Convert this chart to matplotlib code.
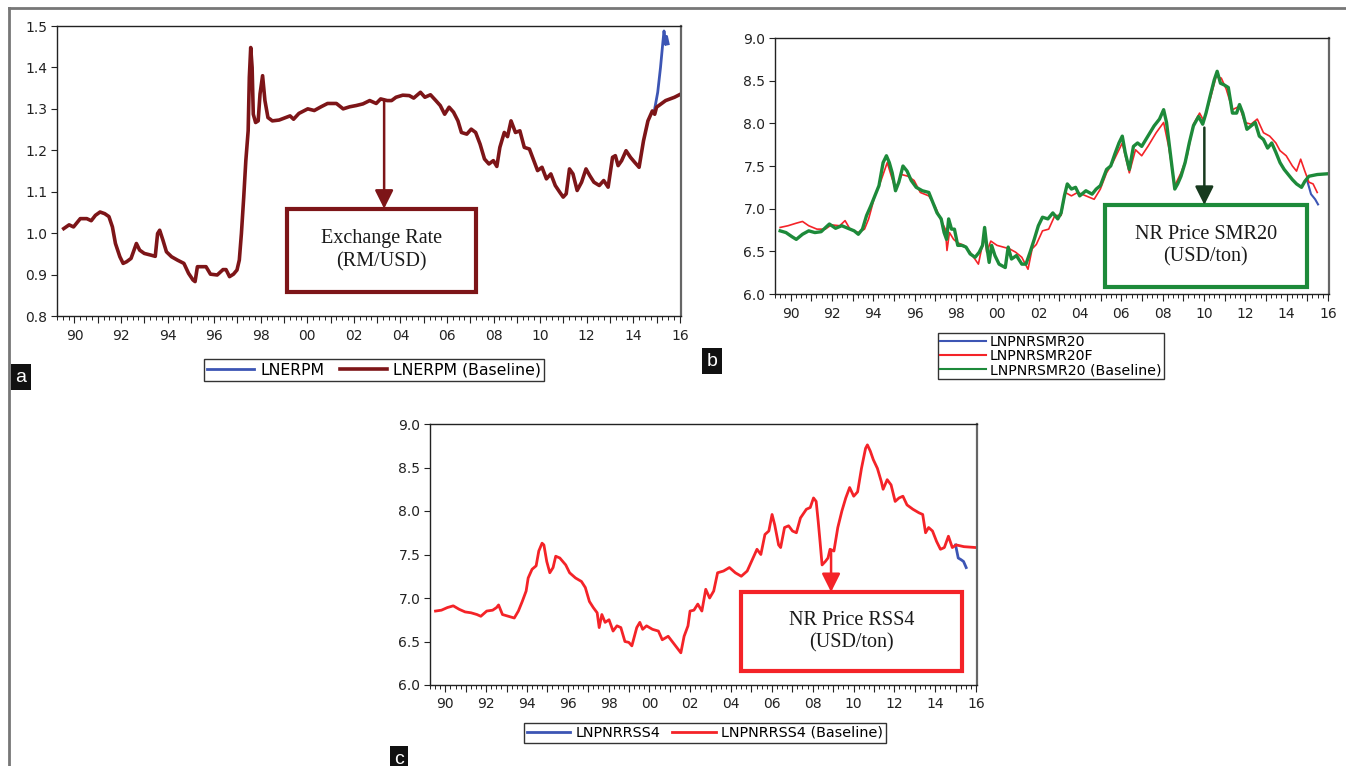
import matplotlib
matplotlib.use("Agg")
import matplotlib.pyplot as plt
from matplotlib.patches import Rectangle
from matplotlib.lines import Line2D

plt.rcParams['font.family'] = ['DejaVu Sans']

# ---- panel a: exchange rate (LNERPM) ----
a_base = [(1989.54, 1.011), (1989.77, 1.02), (1989.96, 1.015), (1990.25, 1.035), (1990.53, 1.035),
          (1990.72, 1.03), (1990.9, 1.043), (1991.1, 1.051), (1991.3, 1.047), (1991.48, 1.04),
          (1991.63, 1.015), (1991.76, 0.975), (1991.95, 0.943), (1992.09, 0.927), (1992.24, 0.931),
          (1992.43, 0.939), (1992.66, 0.975), (1992.8, 0.959), (1993.0, 0.951), (1993.28, 0.947),
          (1993.47, 0.944), (1993.57, 0.999), (1993.66, 1.007), (1993.8, 0.983), (1993.95, 0.955),
          (1994.17, 0.943), (1994.42, 0.935), (1994.7, 0.927), (1994.9, 0.903), (1995.09, 0.887),
          (1995.18, 0.883), (1995.28, 0.919), (1995.46, 0.919), (1995.65, 0.919), (1995.84, 0.901),
          (1996.13, 0.899), (1996.38, 0.912), (1996.51, 0.912), (1996.66, 0.895), (1996.83, 0.901),
          (1996.98, 0.911), (1997.08, 0.935), (1997.17, 0.999), (1997.27, 1.087), (1997.36, 1.175),
          (1997.46, 1.247), (1997.51, 1.376), (1997.57, 1.448), (1997.63, 1.40), (1997.68, 1.287),
          (1997.78, 1.267), (1997.89, 1.271), (1997.97, 1.336), (1998.08, 1.38), (1998.18, 1.32),
          (1998.31, 1.279), (1998.5, 1.271), (1998.79, 1.273), (1999.07, 1.279), (1999.26, 1.283),
          (1999.41, 1.275), (1999.64, 1.289), (2000.02, 1.30), (2000.3, 1.296), (2000.59, 1.305),
          (2000.87, 1.313), (2001.25, 1.313), (2001.54, 1.30), (2001.82, 1.305), (2002.1, 1.308),
          (2002.39, 1.312), (2002.68, 1.32), (2002.96, 1.313), (2003.15, 1.324), (2003.43, 1.32),
          (2003.62, 1.32), (2003.81, 1.328), (2004.1, 1.333), (2004.38, 1.332), (2004.57, 1.326),
          (2004.86, 1.34), (2005.05, 1.328), (2005.29, 1.334), (2005.52, 1.32), (2005.71, 1.308),
          (2005.9, 1.287), (2006.09, 1.304), (2006.28, 1.292), (2006.47, 1.271), (2006.62, 1.243),
          (2006.85, 1.239), (2007.04, 1.251), (2007.23, 1.243), (2007.42, 1.215), (2007.61, 1.179),
          (2007.8, 1.167), (2007.99, 1.175), (2008.14, 1.161), (2008.27, 1.207), (2008.46, 1.243),
          (2008.6, 1.233), (2008.75, 1.271), (2008.94, 1.243), (2009.13, 1.247), (2009.32, 1.207),
          (2009.54, 1.203), (2009.73, 1.175), (2009.89, 1.151), (2010.08, 1.159), (2010.27, 1.131),
          (2010.46, 1.143), (2010.65, 1.115), (2010.84, 1.099), (2010.99, 1.087), (2011.12, 1.095),
          (2011.26, 1.155), (2011.41, 1.143), (2011.59, 1.103), (2011.78, 1.123), (2011.97, 1.155),
          (2012.13, 1.139), (2012.31, 1.123), (2012.54, 1.115), (2012.73, 1.127), (2012.92, 1.111),
          (2013.11, 1.183), (2013.23, 1.187), (2013.35, 1.163), (2013.5, 1.175), (2013.69, 1.199),
          (2013.88, 1.183), (2014.06, 1.171), (2014.25, 1.159), (2014.44, 1.223), (2014.63, 1.271),
          (2014.82, 1.295), (2014.92, 1.287), (2015.0, 1.304), (2015.39, 1.32), (2015.77, 1.328),
          (2016.05, 1.336)]
a_act = [(2014.92, 1.30), (2015.05, 1.34), (2015.17, 1.40), (2015.27, 1.46), (2015.32, 1.488),
         (2015.36, 1.47), (2015.39, 1.455), (2015.43, 1.475), (2015.5, 1.457)]

# ---- panel b: SMR20 ----
b_base = [(1989.5, 6.74), (1989.78, 6.72), (1990.08, 6.67), (1990.28, 6.64), (1990.58, 6.70),
          (1990.88, 6.74), (1991.18, 6.72), (1991.48, 6.73), (1991.88, 6.82), (1992.18, 6.77),
          (1992.48, 6.80), (1992.78, 6.77), (1993.08, 6.74), (1993.28, 6.70), (1993.48, 6.76),
          (1993.68, 6.92), (1993.88, 7.03), (1994.08, 7.15), (1994.28, 7.27), (1994.48, 7.54),
          (1994.64, 7.62), (1994.78, 7.54), (1994.92, 7.42), (1995.08, 7.21), (1995.24, 7.31),
          (1995.44, 7.50), (1995.64, 7.44), (1995.84, 7.33), (1996.08, 7.25), (1996.38, 7.21),
          (1996.69, 7.19), (1996.89, 7.07), (1997.09, 6.95), (1997.29, 6.88), (1997.43, 6.72),
          (1997.55, 6.64), (1997.65, 6.88), (1997.79, 6.76), (1997.93, 6.76), (1998.09, 6.57),
          (1998.29, 6.57), (1998.49, 6.55), (1998.69, 6.47), (1998.93, 6.43), (1999.13, 6.49),
          (1999.29, 6.57), (1999.39, 6.78), (1999.49, 6.57), (1999.61, 6.37), (1999.73, 6.57),
          (1999.89, 6.45), (2000.09, 6.35), (2000.39, 6.31), (2000.53, 6.55), (2000.69, 6.41),
          (2000.93, 6.45), (2001.19, 6.35), (2001.39, 6.35), (2001.59, 6.49), (2001.79, 6.64),
          (2001.99, 6.80), (2002.19, 6.90), (2002.45, 6.88), (2002.69, 6.95), (2002.93, 6.88),
          (2003.09, 6.95), (2003.25, 7.15), (2003.39, 7.29), (2003.59, 7.23), (2003.79, 7.25),
          (2003.99, 7.15), (2004.29, 7.21), (2004.59, 7.17), (2004.79, 7.23), (2004.99, 7.27),
          (2005.29, 7.46), (2005.49, 7.50), (2005.69, 7.64), (2005.89, 7.77), (2006.05, 7.85),
          (2006.19, 7.66), (2006.39, 7.46), (2006.59, 7.73), (2006.79, 7.77), (2006.99, 7.73),
          (2007.29, 7.85), (2007.59, 7.97), (2007.85, 8.05), (2008.05, 8.16), (2008.19, 8.01),
          (2008.33, 7.73), (2008.49, 7.42), (2008.59, 7.23), (2008.73, 7.29), (2008.89, 7.38),
          (2009.09, 7.54), (2009.29, 7.77), (2009.49, 7.97), (2009.74, 8.08), (2009.94, 7.99),
          (2010.1, 8.12), (2010.3, 8.32), (2010.5, 8.51), (2010.64, 8.61), (2010.8, 8.47),
          (2010.98, 8.45), (2011.18, 8.42), (2011.38, 8.12), (2011.58, 8.12), (2011.72, 8.22),
          (2011.88, 8.12), (2012.08, 7.93), (2012.28, 7.97), (2012.48, 8.01), (2012.68, 7.85),
          (2012.88, 7.81), (2013.08, 7.71), (2013.28, 7.77), (2013.48, 7.66), (2013.68, 7.54),
          (2013.88, 7.46), (2014.08, 7.40), (2014.28, 7.34), (2014.48, 7.29), (2014.72, 7.25),
          (2014.88, 7.32), (2015.08, 7.38), (2015.48, 7.40), (2016.05, 7.41)]
b_fit = [(1989.5, 6.78), (1989.88, 6.80), (1990.28, 6.83), (1990.58, 6.85), (1990.88, 6.80),
         (1991.28, 6.76), (1991.68, 6.76), (1991.98, 6.81), (1992.38, 6.80), (1992.64, 6.86),
         (1992.88, 6.76), (1993.28, 6.72), (1993.58, 6.76), (1993.78, 6.88), (1994.08, 7.15),
         (1994.38, 7.33), (1994.68, 7.54), (1994.88, 7.38), (1995.08, 7.23), (1995.38, 7.40),
         (1995.68, 7.38), (1995.98, 7.33), (1996.28, 7.19), (1996.69, 7.15), (1996.99, 7.03),
         (1997.29, 6.86), (1997.49, 6.76), (1997.57, 6.51), (1997.69, 6.72), (1997.89, 6.64),
         (1998.09, 6.60), (1998.39, 6.57), (1998.69, 6.49), (1999.09, 6.35), (1999.39, 6.70),
         (1999.49, 6.49), (1999.69, 6.62), (1999.99, 6.57), (2000.29, 6.55), (2000.59, 6.53),
         (2000.89, 6.49), (2001.19, 6.43), (2001.49, 6.29), (2001.69, 6.53), (2001.89, 6.58),
         (2002.19, 6.74), (2002.49, 6.76), (2002.79, 6.92), (2003.09, 6.92), (2003.29, 7.19),
         (2003.59, 7.15), (2003.89, 7.19), (2004.29, 7.15), (2004.69, 7.11), (2004.99, 7.23),
         (2005.29, 7.42), (2005.59, 7.54), (2005.89, 7.69), (2006.05, 7.77), (2006.39, 7.42),
         (2006.69, 7.69), (2006.99, 7.62), (2007.29, 7.73), (2007.69, 7.89), (2008.05, 8.01),
         (2008.29, 7.73), (2008.59, 7.27), (2008.89, 7.42), (2009.19, 7.62), (2009.49, 7.99),
         (2009.79, 8.12), (2009.99, 8.03), (2010.3, 8.28), (2010.59, 8.55), (2010.84, 8.53),
         (2011.08, 8.40), (2011.38, 8.16), (2011.72, 8.20), (2011.98, 8.01), (2012.28, 7.99),
         (2012.58, 8.05), (2012.88, 7.89), (2013.18, 7.85), (2013.48, 7.77), (2013.68, 7.68),
         (2013.98, 7.62), (2014.28, 7.50), (2014.48, 7.44), (2014.68, 7.58), (2014.88, 7.44),
         (2015.08, 7.31), (2015.28, 7.29), (2015.48, 7.19)]
b_act = [(2014.98, 7.34), (2015.18, 7.17), (2015.38, 7.11), (2015.52, 7.05)]

# ---- panel c: RSS4 ----
c_base = [(1989.52, 6.85), (1989.81, 6.86), (1990.1, 6.89), (1990.39, 6.91), (1990.68, 6.87),
          (1990.97, 6.84), (1991.26, 6.83), (1991.55, 6.81), (1991.74, 6.79), (1992.03, 6.85),
          (1992.32, 6.86), (1992.51, 6.89), (1992.61, 6.92), (1992.8, 6.81), (1993.09, 6.79),
          (1993.38, 6.77), (1993.58, 6.85), (1993.77, 6.96), (1993.96, 7.08), (1994.06, 7.23),
          (1994.25, 7.33), (1994.45, 7.37), (1994.58, 7.54), (1994.74, 7.63), (1994.83, 7.61),
          (1994.97, 7.42), (1995.12, 7.29), (1995.28, 7.35), (1995.41, 7.48), (1995.61, 7.46),
          (1995.9, 7.38), (1996.09, 7.29), (1996.38, 7.23), (1996.67, 7.19), (1996.86, 7.12),
          (1997.06, 6.96), (1997.25, 6.89), (1997.44, 6.83), (1997.54, 6.66), (1997.67, 6.81),
          (1997.83, 6.72), (1998.02, 6.75), (1998.22, 6.62), (1998.41, 6.68), (1998.6, 6.66),
          (1998.8, 6.50), (1998.99, 6.49), (1999.14, 6.45), (1999.38, 6.66), (1999.53, 6.72),
          (1999.67, 6.64), (1999.86, 6.68), (2000.15, 6.64), (2000.44, 6.62), (2000.63, 6.52),
          (2000.92, 6.56), (2001.21, 6.47), (2001.41, 6.41), (2001.54, 6.37), (2001.7, 6.56),
          (2001.89, 6.68), (2001.99, 6.85), (2002.18, 6.86), (2002.37, 6.93), (2002.57, 6.85),
          (2002.76, 7.10), (2002.95, 7.00), (2003.15, 7.08), (2003.34, 7.29), (2003.63, 7.31),
          (2003.92, 7.35), (2004.21, 7.29), (2004.5, 7.25), (2004.79, 7.31), (2005.08, 7.46),
          (2005.27, 7.56), (2005.46, 7.50), (2005.66, 7.73), (2005.85, 7.77), (2006.01, 7.96),
          (2006.14, 7.84), (2006.33, 7.61), (2006.43, 7.58), (2006.62, 7.81), (2006.82, 7.83),
          (2007.01, 7.77), (2007.2, 7.75), (2007.4, 7.92), (2007.69, 8.02), (2007.88, 8.04),
          (2008.04, 8.15), (2008.17, 8.11), (2008.27, 7.88), (2008.36, 7.65), (2008.46, 7.38),
          (2008.62, 7.42), (2008.75, 7.46), (2008.85, 7.56), (2009.04, 7.54), (2009.23, 7.81),
          (2009.43, 8.00), (2009.62, 8.15), (2009.81, 8.27), (2010.01, 8.17), (2010.2, 8.22),
          (2010.39, 8.49), (2010.59, 8.72), (2010.68, 8.76), (2010.82, 8.69), (2010.97, 8.59),
          (2011.17, 8.49), (2011.36, 8.34), (2011.45, 8.25), (2011.65, 8.36), (2011.84, 8.30),
          (2012.04, 8.11), (2012.23, 8.15), (2012.42, 8.17), (2012.62, 8.07), (2012.91, 8.02),
          (2013.2, 7.98), (2013.39, 7.96), (2013.53, 7.75), (2013.68, 7.81), (2013.87, 7.77),
          (2014.07, 7.65), (2014.26, 7.56), (2014.45, 7.58), (2014.65, 7.71), (2014.84, 7.58),
          (2015.03, 7.61), (2015.41, 7.59), (2015.99, 7.58)]
c_act = [(2015.0, 7.61), (2015.13, 7.46), (2015.27, 7.44), (2015.39, 7.42), (2015.52, 7.35)]

years = list(range(1990, 2017))
year_labels = ['%02d' % (y % 100) if y % 2 == 0 else '' for y in years]

BLUE = '#3c55b4'
DARKRED = '#7d1518'
GREEN = '#1d8a3a'
RED = '#f42328'

fig = plt.figure(figsize=(13.46, 7.66), dpi=100)


def style_axes(ax, ylim, yticks, yfmt):
    ax.set_xlim(1989.52, 2016.05)
    ax.set_ylim(*ylim)
    ax.set_yticks(yticks)
    ax.set_yticklabels([yfmt % v for v in yticks])
    ax.set_xticks(years)
    ax.set_xticklabels(year_labels)
    ax.set_xticks([y + q / 4 for y in range(1989, 2016) for q in (1, 2, 3)], minor=True)
    ax.tick_params(axis='both', labelsize=10, colors='#222222', direction='out')
    ax.tick_params(axis='x', which='major', length=5, pad=4)
    ax.tick_params(axis='x', which='minor', length=3)
    ax.tick_params(axis='y', length=4, pad=3)
    for s in ax.spines.values():
        s.set_color('#222222')
        s.set_linewidth(1.0)
    ax.spines['right'].set_color('#666666')
    ax.spines['right'].set_linewidth(1.6)


def note_box(ax, box, color, lines, arrow_x, arrow_y0, arrow_color):
    x0, y0, x1, y1 = box
    ax.add_patch(Rectangle((x0, y0), x1 - x0, y1 - y0, transform=ax.transAxes,
                           fill=False, edgecolor=color, linewidth=3, zorder=5))
    ax.text((x0 + x1) / 2, (y0 + y1) / 2, lines, transform=ax.transAxes,
            ha='center', va='center', fontsize=14.5, family='Liberation Serif',
            color='#1a1a1a', linespacing=1.25, zorder=6)
    ax.annotate('', xy=(arrow_x, y1), xycoords=('data', 'axes fraction'),
                xytext=(arrow_x, arrow_y0), textcoords='data',
                arrowprops=dict(arrowstyle='-|>', color=arrow_color, lw=1.8,
                                mutation_scale=28, shrinkA=0, shrinkB=0), zorder=6)


def xy(pts):
    return [p[0] for p in pts], [p[1] for p in pts]


def panel_label(x, y, s):
    fig.text(x, y, s, ha='center', va='center', color='white', fontsize=14,
             family='Liberation Sans',
             bbox=dict(boxstyle='square,pad=0.22', facecolor='#111111', edgecolor='none'))


legend_kw = dict(loc='center', frameon=True, fancybox=False, edgecolor='#333333',
                 framealpha=1)

# panel a
axa = fig.add_axes([57 / 1346, 1 - 316 / 766, 624 / 1346, 290 / 766])
style_axes(axa, (0.8, 1.5), [0.8, 0.9, 1.0, 1.1, 1.2, 1.3, 1.4, 1.5], '%.1f')
axa.plot(*xy(a_act), color=BLUE, lw=2.0, label='LNERPM')
axa.plot(*xy(a_base), color=DARKRED, lw=2.6, label='LNERPM (Baseline)')
note_box(axa, (0.3686, 0.083, 0.6715, 0.370), DARKRED, 'Exchange Rate\n(RM/USD)',
         2003.3, 1.322, DARKRED)
fig.legend(handles=axa.get_lines(), bbox_to_anchor=(374 / 1346, 1 - 370 / 766),
           ncol=2, fontsize=11.3, handlelength=3.0, columnspacing=1.0, borderpad=0.2,
           handletextpad=0.4, **legend_kw)

# panel b
axb = fig.add_axes([775 / 1346, 1 - 294 / 766, 554 / 1346, 256 / 766])
style_axes(axb, (6.0, 9.0), [6.0, 6.5, 7.0, 7.5, 8.0, 8.5, 9.0], '%.1f')
axb.plot(*xy(b_act), color=BLUE, lw=1.5, label='LNPNRSMR20')
axb.plot(*xy(b_fit), color=RED, lw=1.2, label='LNPNRSMR20F')
axb.plot(*xy(b_base), color=GREEN, lw=2.4, label='LNPNRSMR20 (Baseline)')
note_box(axb, (0.5957, 0.027, 0.960, 0.348), GREEN, 'NR Price SMR20\n(USD/ton)',
         2010.02, 7.95, '#173a1e')
fig.legend(handles=[Line2D([], [], color=BLUE, lw=1.5), Line2D([], [], color=RED, lw=1.5),
                    Line2D([], [], color=GREEN, lw=1.5)],
           labels=['LNPNRSMR20', 'LNPNRSMR20F', 'LNPNRSMR20 (Baseline)'],
           bbox_to_anchor=(1051 / 1346, 1 - 356 / 766), ncol=1, fontsize=10.2,
           handlelength=3.2, borderpad=0.15, handletextpad=0.3, labelspacing=0.0,
           **legend_kw)

# panel c
axc = fig.add_axes([430 / 1346, 1 - 685 / 766, 547 / 1346, 261 / 766])
style_axes(axc, (6.0, 9.0), [6.0, 6.5, 7.0, 7.5, 8.0, 8.5, 9.0], '%.1f')
axc.plot(*xy(c_act), color=BLUE, lw=2.0, label='LNPNRRSS4')
axc.plot(*xy(c_base), color=RED, lw=2.0, label='LNPNRRSS4 (Baseline)')
note_box(axc, (0.5686, 0.054, 0.9726, 0.356), RED, 'NR Price RSS4\n(USD/ton)',
         2008.9, 7.55, RED)
fig.legend(handles=axc.get_lines(), bbox_to_anchor=(705 / 1346, 1 - 733 / 766),
           ncol=2, fontsize=10.4, handlelength=3.0, columnspacing=0.8, borderpad=0.2,
           handletextpad=0.4, **legend_kw)

# panel letters
panel_label(21 / 1346, 1 - 377 / 766, 'a')
panel_label(712 / 1346, 1 - 361 / 766, 'b')
panel_label(399 / 1346, 1 - 759 / 766, 'c')

# outer frame (top and left only)
fig.add_artist(Line2D([9 / 1346, 1.0], [1 - 8 / 766, 1 - 8 / 766], color='#777777', lw=2,
                      transform=fig.transFigure))
fig.add_artist(Line2D([9 / 1346, 9 / 1346], [0, 1 - 8 / 766], color='#777777', lw=2,
                      transform=fig.transFigure))

fig.savefig('out.png', dpi=100)
